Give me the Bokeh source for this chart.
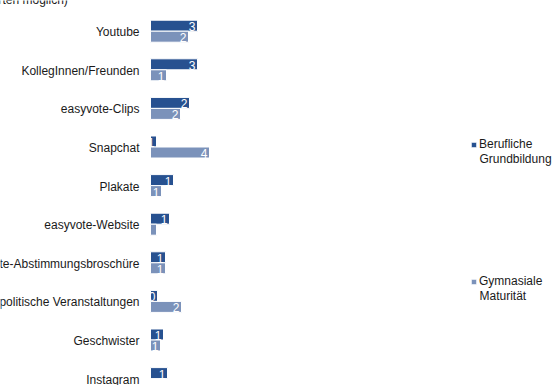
from bokeh.plotting import figure
from bokeh.models import ColumnDataSource, Range1d, Legend, LegendItem, Label
from bokeh.core.properties import value
from bokeh.embed import file_html
from bokeh.resources import INLINE

title_text = "(Mehrere Antworten möglich)"
categories = ["Youtube", "KollegInnen/Freunden", "easyvote-Clips", "Snapchat", "Plakate",
              "easyvote-Website", "easyvote-Abstimmungsbroschüre", "politische Veranstaltungen",
              "Geschwister", "Instagram"]
beruf_vals = [4.7, 4.7, 3.9, 0.6, 2.3, 1.9, 1.5, 0.7, 1.3, 1.7]
beruf_labels = ["3", "3", "2", "1", "1", "1", "1", "0", "1", "1"]
gym_vals = [3.8, 1.6, 3.0, 5.9, 1.1, 0.6, 1.5, 3.1, 1.0, 0.0]
gym_labels = ["2", "1", "2", "4", "1", "", "1", "2", "1", ""]
series_first = ["Berufliche", "Gymnasiale"]
series_second = ["Grundbildung", "Maturität"]

DARK = "#275190"
LIGHT = "#7B92BA"
FONT = "Liberation Sans"
TXT = "#1a1a1a"

W, H = 555, 385
idx = list(range(len(categories)))
src = ColumnDataSource(dict(idx=idx, cat=categories, b=beruf_vals, bl=beruf_labels,
                            g=gym_vals, gl=gym_labels,
                            yb=[i - 0.1425 for i in idx], yg=[i + 0.1425 for i in idx]))

p = figure(width=W, height=H, output_backend="svg", toolbar_location=None,
           x_range=Range1d(-15, (W - 150) / 10), y_range=Range1d((H - 30.7) / 38.6, -30.7 / 38.6),
           min_border=0, min_border_left=0, min_border_right=0,
           min_border_top=0, min_border_bottom=0)
p.axis.visible = False
p.grid.visible = False
p.outline_line_color = None
p.background_fill_color = "white"

rb = p.hbar(y="yb", right="b", left=0, height=0.285, source=src,
            fill_color=DARK, line_color="white", line_width=1)
rg = p.hbar(y="yg", right="g", left=0, height=0.285, source=src,
            fill_color=LIGHT, line_color="white", line_width=1)

p.text(x="b", y="yb", text="bl", source=src, text_color="white", text_align="right",
       text_baseline="middle", x_offset=-2, y_offset=1, text_font=value(FONT), text_font_size="12px")
p.text(x="g", y="yg", text="gl", source=src, text_color="white", text_align="right",
       text_baseline="middle", x_offset=-2, y_offset=1, text_font=value(FONT), text_font_size="12px")

p.text(x=0, y="idx", text="cat", source=src, text_color=TXT, text_align="right",
       text_baseline="middle", x_offset=-11, y_offset=1, text_font=value(FONT), text_font_size="12px")

# partially visible title at the top edge
p.add_layout(Label(x=68, y=H + 0.5, x_units="screen", y_units="screen", text=title_text,
                   text_align="right", text_baseline="alphabetic", text_font=FONT,
                   text_font_size="12px", text_color=TXT))

legend = Legend(items=[LegendItem(label=series_first[0], renderers=[rb]),
                       LegendItem(label=series_first[1], renderers=[rg])],
                location=(470, 97), orientation="vertical",
                glyph_width=7, glyph_height=7, label_standoff=2, spacing=123, label_height=14,
                padding=0, margin=0, border_line_color=None, background_fill_alpha=0,
                label_text_font=FONT, label_text_font_size="12px", label_text_color=TXT)
p.add_layout(legend, "center")
p.add_layout(Label(x=479, y=H - 158, x_units="screen", y_units="screen", text=series_second[0],
                   text_baseline="middle", text_font=FONT, text_font_size="12px", text_color=TXT))
p.add_layout(Label(x=479, y=H - 295, x_units="screen", y_units="screen", text=series_second[1],
                   text_baseline="middle", text_font=FONT, text_font_size="12px", text_color=TXT))

open("out.html", "w").write(file_html(p, INLINE))
